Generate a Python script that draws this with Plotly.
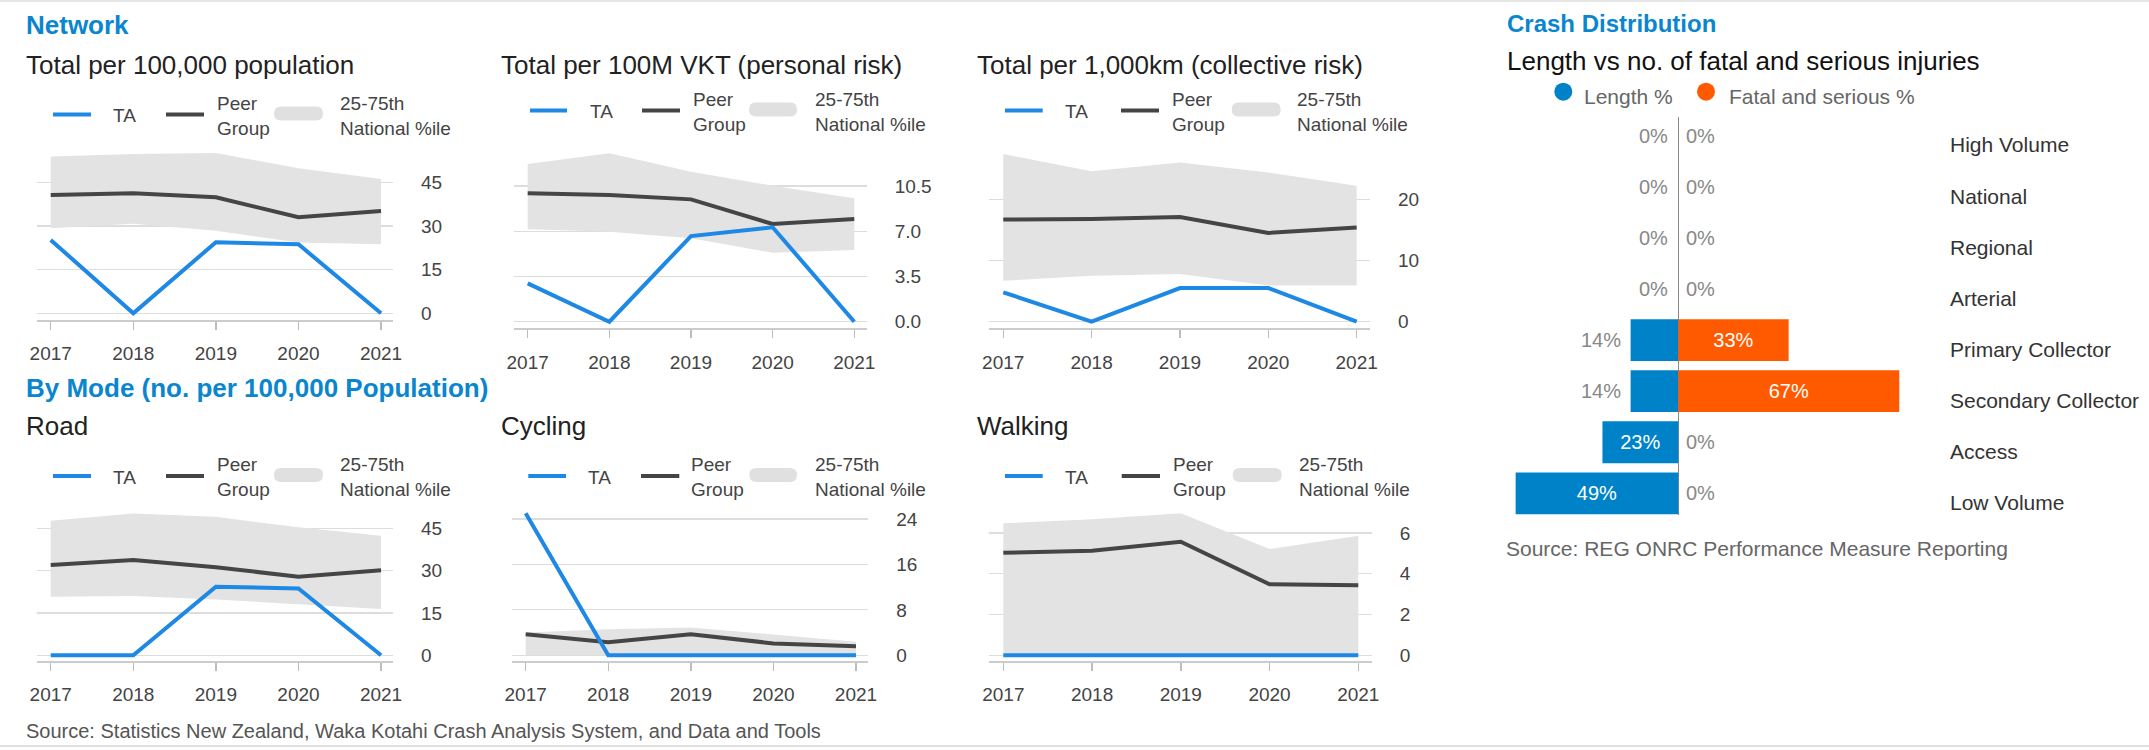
import plotly.graph_objects as go

W, H = 2149, 750
FONT = "Arial, Liberation Sans, Helvetica, sans-serif"
BLUE_T = "#0A86CF"
TA_C = "#1E88E5"
PEER_C = "#454545"
BAND_C = "#E3E3E3"

# ---------------- data ----------------
years = [2017, 2018, 2019, 2020, 2021]
year_labels = ["2017", "2018", "2019", "2020", "2021"]

net_pop_ta = [25.2, 0, 24.4, 23.7, 0]
net_pop_peer = [40.6, 41.2, 39.8, 33.0, 35.1]
net_pop_p25 = [29.2, 30.7, 28.3, 24.3, 23.7]
net_pop_p75 = [53.8, 54.7, 55.0, 49.8, 46.1]

net_vkt_ta = [2.97, 0, 6.63, 7.31, 0]
net_vkt_peer = [9.94, 9.81, 9.47, 7.56, 7.95]
net_vkt_p25 = [7.15, 6.97, 6.46, 5.34, 5.55]
net_vkt_p75 = [12.21, 13.03, 11.61, 10.53, 9.55]

net_km_ta = [4.8, 0, 5.5, 5.5, 0]
net_km_peer = [16.7, 16.8, 17.1, 14.5, 15.4]
net_km_p25 = [6.7, 7.5, 7.8, 5.9, 5.9]
net_km_p75 = [27.4, 24.6, 26.0, 24.4, 22.2]

road_ta = [0, 0, 24.3, 23.7, 0]
road_peer = [32.0, 33.8, 31.2, 27.9, 30.2]
road_p25 = [20.8, 21.0, 19.8, 18.1, 16.4]
road_p75 = [47.7, 50.3, 49.1, 45.4, 42.4]

cyc_ta = [25.0, 0, 0, 0, 0]
cyc_peer = [3.7, 2.3, 3.7, 2.1, 1.6]
cyc_p25 = [0, 0, 0, 0, 0]
cyc_p75 = [4.0, 4.6, 4.9, 3.6, 2.4]

walk_ta = [0, 0, 0, 0, 0]
walk_peer = [5.03, 5.13, 5.57, 3.48, 3.44]
walk_p25 = [0, 0, 0, 0, 0]
walk_p75 = [6.47, 6.67, 6.96, 5.21, 5.86]

ytick_pop = [0, 15, 30, 45]
ytick_vkt = [0, 3.5, 7.0, 10.5]
ytick_vkt_labels = ["0.0", "3.5", "7.0", "10.5"]
ytick_km = [0, 10, 20]
ytick_road = [0, 15, 30, 45]
ytick_cyc = [0, 8, 16, 24]
ytick_walk = [0, 2, 4, 6]

onrc_classes = ["High Volume", "National", "Regional", "Arterial",
                "Primary Collector", "Secondary Collector", "Access", "Low Volume"]
length_pct = [0, 0, 0, 0, 14.4, 14.4, 22.9, 49.1]
fsi_pct = [0, 0, 0, 0, 33.3, 66.7, 0, 0]


def px(x):
    return x / W


def py(y):
    return 1 - y / H


# panel layout (pixel geometry)
panels = [
    dict(ta=net_pop_ta, peer=net_pop_peer, lo=net_pop_p25, hi=net_pop_p75,
         ytv=ytick_pop, ytt=[str(v) for v in ytick_pop],
         xl=37, xr=393, top=150, bot=320, xrange=[2016.834, 2021.145], yrange=[-2.3, 56.06],
         title="Total per 100,000 population", tx=24, ty=65,
         leg=dict(yc=114.5, ta=(53, 91), tat=111, pe=(166, 204), pet=215, sw=(274, 323), swt=338)),
    dict(ta=net_vkt_ta, peer=net_vkt_peer, lo=net_vkt_p25, hi=net_vkt_p75,
         ytv=ytick_vkt, ytt=ytick_vkt_labels,
         xl=514.3, xr=866.7, top=150, bot=328.3, xrange=[2016.836, 2021.152], yrange=[-0.51, 13.29],
         title="Total per 100M VKT (personal risk)", tx=499.3, ty=65,
         leg=dict(yc=110.5, ta=(530, 567), tat=587.7, pe=(642, 680), pet=691, sw=(749, 797), swt=812.7)),
    dict(ta=net_km_ta, peer=net_km_peer, lo=net_km_p25, hi=net_km_p75,
         ytv=ytick_km, ytt=[str(v) for v in ytick_km],
         xl=989.3, xr=1370, top=150, bot=328.3, xrange=[2016.842, 2021.151], yrange=[-1.08, 28.06],
         title="Total per 1,000km (collective risk)", tx=975, ty=65,
         leg=dict(yc=110.5, ta=(1005, 1042.7), tat=1062.7, pe=(1121, 1159), pet=1170, sw=(1231.7, 1280.7), swt=1295)),
    dict(ta=road_ta, peer=road_peer, lo=road_p25, hi=road_p75,
         ytv=ytick_road, ytt=[str(v) for v in ytick_road],
         xl=37, xr=393, top=505, bot=661, xrange=[2016.834, 2021.145], yrange=[-2.02, 53.3],
         title="Road", tx=24, ty=426,
         leg=dict(yc=476, ta=(53, 91), tat=111, pe=(166, 204), pet=215, sw=(274, 323), swt=338)),
    dict(ta=cyc_ta, peer=cyc_peer, lo=cyc_p25, hi=cyc_p75,
         ytv=ytick_cyc, ytt=[str(v) for v in ytick_cyc],
         xl=512.3, xr=868.3, top=505, bot=661, xrange=[2016.838, 2021.149], yrange=[-1.0, 26.47],
         title="Cycling", tx=499.3, ty=426,
         leg=dict(yc=476, ta=(528.3, 566), tat=586, pe=(641, 679.3), pet=689.3, sw=(749.3, 797), swt=812.7)),
    dict(ta=walk_ta, peer=walk_peer, lo=walk_p25, hi=walk_p75,
         ytv=ytick_walk, ytt=[str(v) for v in ytick_walk],
         xl=989.3, xr=1371.7, top=505, bot=661, xrange=[2016.842, 2021.151], yrange=[-0.28, 7.37],
         title="Walking", tx=975, ty=426,
         leg=dict(yc=476, ta=(1005, 1042.7), tat=1063.3, pe=(1121.7, 1160), pet=1170.7, sw=(1232.7, 1281.7), swt=1296.7)),
]

fig = go.Figure()
layout = dict(
    width=W, height=H, margin=dict(l=0, r=0, t=0, b=0, pad=0, autoexpand=False),
    paper_bgcolor="white", plot_bgcolor="white",
    showlegend=False, barmode="relative", bargap=0.181,
    font=dict(family=FONT, color="#333"),
)
annotations = []
shapes = []


def pill_path(x0, x1, yc, h, r):
    t, b = yc - h / 2, yc + h / 2
    pts = [
        f"M {px(x0 + r)},{py(t)}", f"L {px(x1 - r)},{py(t)}",
        f"Q {px(x1)},{py(t)} {px(x1)},{py(yc)}",
        f"Q {px(x1)},{py(b)} {px(x1 - r)},{py(b)}",
        f"L {px(x0 + r)},{py(b)}",
        f"Q {px(x0)},{py(b)} {px(x0)},{py(yc)}",
        f"Q {px(x0)},{py(t)} {px(x0 + r)},{py(t)} Z",
    ]
    return " ".join(pts)


for i, p in enumerate(panels, start=1):
    xa, ya = f"x{i}", f"y{i}"
    fig.add_trace(go.Scatter(x=years, y=p["lo"], mode="lines", line=dict(width=0, color=BAND_C),
                             hoverinfo="skip", xaxis=xa, yaxis=ya))
    fig.add_trace(go.Scatter(x=years, y=p["hi"], mode="lines", line=dict(width=0, color=BAND_C),
                             fill="tonexty", fillcolor=BAND_C, hoverinfo="skip", xaxis=xa, yaxis=ya))
    fig.add_trace(go.Scatter(x=years, y=p["peer"], mode="lines", line=dict(width=4, color=PEER_C),
                             xaxis=xa, yaxis=ya, name="Peer Group"))
    fig.add_trace(go.Scatter(x=years, y=p["ta"], mode="lines", line=dict(width=4, color=TA_C),
                             xaxis=xa, yaxis=ya, name="TA"))
    layout[f"xaxis{i}"] = dict(
        domain=[px(p["xl"]), px(p["xr"])], range=p["xrange"], anchor=ya, automargin=False,
        tickvals=years, ticktext=year_labels, showgrid=False, zeroline=False,
        showline=True, linecolor="#cccccc", linewidth=1.5,
        ticks="outside", ticklen=8, tickwidth=1.5, tickcolor="#bdbdbd",
        tickfont=dict(size=19, color="#444", family=FONT), ticklabelstandoff=8,
    )
    layout[f"yaxis{i}"] = dict(
        domain=[py(p["bot"]), py(p["top"])], range=p["yrange"], anchor=xa, side="right",
        automargin=False,
        tickvals=p["ytv"], ticktext=p["ytt"], showgrid=True, gridcolor="#dddddd", gridwidth=1.2,
        zeroline=False, showline=False, ticks="",
        tickfont=dict(size=19, color="#444", family=FONT), ticklabelstandoff=27,
    )
    # panel title
    annotations.append(dict(x=px(p["tx"]), y=py(p["ty"]), xref="paper", yref="paper",
                            text=p["title"], showarrow=False, xanchor="left", yanchor="middle",
                            font=dict(size=26, color="#222", family=FONT)))
    # legend
    L = p["leg"]
    yc = L["yc"]
    shapes.append(dict(type="line", xref="paper", yref="paper", x0=px(L["ta"][0]), x1=px(L["ta"][1]),
                       y0=py(yc), y1=py(yc), line=dict(color=TA_C, width=4)))
    shapes.append(dict(type="line", xref="paper", yref="paper", x0=px(L["pe"][0]), x1=px(L["pe"][1]),
                       y0=py(yc), y1=py(yc), line=dict(color=PEER_C, width=4)))
    shapes.append(dict(type="path", xref="paper", yref="paper",
                       path=pill_path(L["sw"][0], L["sw"][1], yc - 1, 14, 7),
                       fillcolor="#E0E0E0", line=dict(width=0)))
    for tx, txt in [(L["tat"], "TA"), (L["pet"], "Peer<br>Group"), (L["swt"], "25-75th<br>National %ile")]:
        annotations.append(dict(x=px(tx), y=py(yc + 1), xref="paper", yref="paper", text=txt,
                                showarrow=False, xanchor="left", yanchor="middle", align="left",
                                font=dict(size=19, color="#444", family=FONT)))

# section headings
for (x, y, txt, sz) in [(24, 25, "Network", 26), (24, 388.3, "By Mode (no. per 100,000 Population)", 26),
                        (1505, 23.3, "Crash Distribution", 24)]:
    annotations.append(dict(x=px(x), y=py(y), xref="paper", yref="paper", text=f"<b>{txt}</b>",
                            showarrow=False, xanchor="left", yanchor="middle",
                            font=dict(size=sz, color=BLUE_T, family=FONT)))

# sources
annotations.append(dict(x=px(24), y=py(730.7), xref="paper", yref="paper",
                        text="Source: Statistics New Zealand, Waka Kotahi Crash Analysis System, and Data and Tools",
                        showarrow=False, xanchor="left", yanchor="middle",
                        font=dict(size=20, color="#555", family=FONT)))
annotations.append(dict(x=px(1504), y=py(548.3), xref="paper", yref="paper",
                        text="Source: REG ONRC Performance Measure Reporting",
                        showarrow=False, xanchor="left", yanchor="middle",
                        font=dict(size=21, color="#666", family=FONT)))

# ---------------- crash distribution bars ----------------
BAR_BLUE = "#0082C8"
BAR_ORANGE = "#FF5A00"
fig.add_trace(go.Bar(
    y=onrc_classes, x=[-v for v in length_pct], orientation="h", marker=dict(color=BAR_BLUE, line=dict(width=0)),
    text=[f"{round(v)}%" if v >= 20 else "" for v in length_pct], textposition="inside",
    insidetextanchor="middle", textfont=dict(size=20, color="white", family=FONT),
    xaxis="x7", yaxis="y7", name="Length %"))
fig.add_trace(go.Bar(
    y=onrc_classes, x=fsi_pct, orientation="h", marker=dict(color=BAR_ORANGE, line=dict(width=0)),
    text=[f"{round(v)}%" if v >= 20 else "" for v in fsi_pct], textposition="inside",
    insidetextanchor="middle", textfont=dict(size=20, color="white", family=FONT),
    xaxis="x7", yaxis="y7", name="Fatal and serious %"))

layout["xaxis7"] = dict(domain=[px(1505), px(1940)], range=[-52.31, 78.99], anchor="y7", automargin=False,
                        showgrid=False, showticklabels=False, ticks="", showline=False,
                        zeroline=True, zerolinecolor="#8a8a8a", zerolinewidth=1.5)
layout["yaxis7"] = dict(domain=[py(515), py(117.3)], type="category", categoryorder="array",
                        categoryarray=onrc_classes, range=[7.425, -0.366], anchor="x7", automargin=False,
                        showgrid=False, showticklabels=False, ticks="", zeroline=False, showline=False)

for cat, lv, fv in zip(onrc_classes, length_pct, fsi_pct):
    if lv < 20:
        annotations.append(dict(x=-lv, y=cat, xref="x7", yref="y7", text=f"{round(lv)}%",
                                showarrow=False, xanchor="right", yanchor="middle",
                                xshift=-8,
                                font=dict(size=20, color="#888", family=FONT)))
    if fv < 20:
        annotations.append(dict(x=fv, y=cat, xref="x7", yref="y7", text=f"{round(fv)}%",
                                showarrow=False, xanchor="left", yanchor="middle", xshift=6,
                                font=dict(size=20, color="#888", family=FONT)))
    annotations.append(dict(x=px(1948.3), y=cat, xref="paper", yref="y7", text=cat,
                            showarrow=False, xanchor="left", yanchor="middle", yshift=-9,
                            font=dict(size=21, color="#333", family=FONT)))

# crash distribution subtitle & legend
annotations.append(dict(x=px(1505), y=py(61), xref="paper", yref="paper",
                        text="Length vs no. of fatal and serious injuries", showarrow=False,
                        xanchor="left", yanchor="middle", font=dict(size=26, color="#111", family=FONT)))
for cx, col, tx, txt in [(1563.3, BAR_BLUE, 1581.7, "Length %"), (1706, BAR_ORANGE, 1727.3, "Fatal and serious %")]:
    shapes.append(dict(type="circle", xref="paper", yref="paper",
                       x0=px(cx - 9), x1=px(cx + 9), y0=py(91.7 + 9), y1=py(91.7 - 9),
                       fillcolor=col, line=dict(width=0)))
    annotations.append(dict(x=px(tx), y=py(96.7), xref="paper", yref="paper", text=txt, showarrow=False,
                            xanchor="left", yanchor="middle", font=dict(size=21, color="#666", family=FONT)))

# frame lines
shapes.append(dict(type="line", xref="paper", yref="paper", x0=0, x1=1, y0=py(1), y1=py(1),
                   line=dict(color="#e6e6e6", width=2)))
shapes.append(dict(type="line", xref="paper", yref="paper", x0=0, x1=1, y0=py(746), y1=py(746),
                   line=dict(color="#e0e0e0", width=2)))

layout["annotations"] = annotations
layout["shapes"] = shapes
fig.update_layout(**layout)
fig.write_html("out.html",
               config={"displayModeBar": False, "staticPlot": True},
               post_script="document.body.style.margin='0';document.body.style.padding='0';"
                           "document.body.style.overflow='hidden';")
